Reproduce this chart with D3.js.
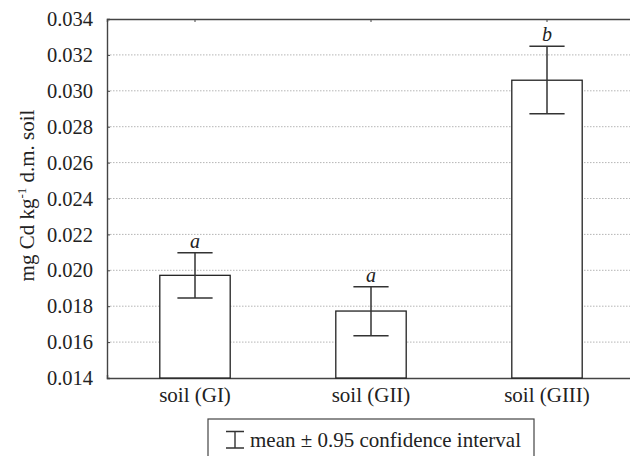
<!DOCTYPE html>
<html>
<head>
<meta charset="utf-8">
<script src="https://cdn.jsdelivr.net/npm/d3@7"></script>
</head>
<body style="margin:0;background:#fff">
<div class="canvas"></div>
<script>
// data
const groups = ["soil (GI)", "soil (GII)", "soil (GIII)"];
const means = [0.01972, 0.01773, 0.03059];
const ciLow = [0.01846, 0.01636, 0.02872];
const ciHigh = [0.02098, 0.01909, 0.03248];
const letters = ["a", "a", "b"];
const yTicks = [0.014, 0.016, 0.018, 0.020, 0.022, 0.024, 0.026, 0.028, 0.030, 0.032, 0.034];

const FONT = "Liberation Serif";
const dims = { width: 630, height: 456 };
const plot = { left: 107, right: 635, top: 19, bottom: 378 };

const svg = d3
  .select(".canvas")
  .append("svg")
  .attr("width", dims.width)
  .attr("height", dims.height)
  .attr("font-family", FONT);

const x = d3.scaleBand().domain(groups).range([plot.left, plot.right]);
const y = d3.scaleLinear().domain([0.014, 0.034]).range([plot.bottom, plot.top]);

const barW = x.bandwidth() * 0.4;
const capW = barW / 2;
const cx = (d) => x(d) + x.bandwidth() / 2;

// gridlines
svg
  .append("g")
  .selectAll("line")
  .data(yTicks.slice(1, -1))
  .join("line")
  .attr("x1", plot.left)
  .attr("x2", dims.width)
  .attr("y1", (d) => y(d))
  .attr("y2", (d) => y(d))
  .attr("stroke", "#b5b5b5")
  .attr("stroke-width", 1)
  .attr("stroke-dasharray", "1.5,1.5");

// y axis
const yAxis = svg
  .append("g")
  .attr("transform", `translate(${plot.left},0)`)
  .call(d3.axisRight(y).tickValues(yTicks).tickSize(3).tickFormat(""));
yAxis.select(".domain").attr("stroke", "#444").attr("stroke-width", 1.4);
yAxis.selectAll(".tick line").attr("stroke", "#444");

svg
  .append("g")
  .selectAll("text")
  .data(yTicks)
  .join("text")
  .attr("font-family", FONT)
  .attr("fill", "#222")
  .attr("x", 93)
  .attr("y", (d) => y(d))
  .attr("dy", "0.35em")
  .attr("text-anchor", "end")
  .attr("font-size", 20.5)
  .text(d3.format(".3f"));

// bottom and top axes
const xAxis = svg
  .append("g")
  .attr("transform", `translate(0,${plot.bottom})`)
  .call(d3.axisTop(x).tickSize(3).tickFormat(""));
xAxis.select(".domain").attr("stroke", "#444").attr("stroke-width", 1.4);
xAxis.selectAll(".tick line").attr("stroke", "#444");

const topAxis = svg
  .append("g")
  .attr("transform", `translate(0,${plot.top})`)
  .call(d3.axisBottom(x).tickSize(3).tickFormat(""));
topAxis.select(".domain").attr("stroke", "#444").attr("stroke-width", 1.4);
topAxis.selectAll(".tick line").attr("stroke", "#444");

// category labels
svg
  .append("g")
  .selectAll("text")
  .data(groups)
  .join("text")
  .attr("font-family", FONT)
  .attr("fill", "#222")
  .attr("x", cx)
  .attr("y", 402)
  .attr("text-anchor", "middle")
  .attr("font-size", 21)
  .text((d) => d);

// bars
svg
  .append("g")
  .selectAll("rect")
  .data(groups)
  .join("rect")
  .attr("x", (d) => cx(d) - barW / 2)
  .attr("y", (d, i) => y(means[i]))
  .attr("width", barW)
  .attr("height", (d, i) => plot.bottom - y(means[i]))
  .attr("fill", "#fff")
  .attr("stroke", "#222")
  .attr("stroke-width", 1.3);

// error bars
const err = svg.append("g").attr("stroke", "#333").attr("stroke-width", 1.5);
groups.forEach((g, i) => {
  err.append("line")
    .attr("x1", cx(g)).attr("x2", cx(g))
    .attr("y1", y(ciHigh[i])).attr("y2", y(ciLow[i]));
  [ciHigh[i], ciLow[i]].forEach((v) => {
    err.append("line")
      .attr("x1", cx(g) - capW / 2).attr("x2", cx(g) + capW / 2)
      .attr("y1", y(v)).attr("y2", y(v));
  });
});

// significance letters
svg
  .append("g")
  .selectAll("text")
  .data(groups)
  .join("text")
  .attr("font-family", FONT)
  .attr("fill", "#222")
  .attr("x", cx)
  .attr("y", (d, i) => y(ciHigh[i]) - 5)
  .attr("text-anchor", "middle")
  .attr("font-size", 20)
  .attr("font-style", "italic")
  .text((d, i) => letters[i]);

// y label
svg
  .append("text")
  .attr("font-family", FONT)
  .attr("fill", "#222")
  .attr("transform", `translate(34,${(plot.top + plot.bottom) / 2 - 3}) rotate(-90)`)
  .attr("text-anchor", "middle")
  .attr("font-size", 21)
  .html('mg Cd kg<tspan dy="-8" font-size="13">-1</tspan><tspan dy="8"> d.m. soil</tspan>');

// legend
const lg = svg.append("g");
lg.append("rect")
  .attr("x", 208)
  .attr("y", 419)
  .attr("width", 326)
  .attr("height", 50)
  .attr("fill", "#fff")
  .attr("stroke", "#444")
  .attr("stroke-width", 1.2);
lg.append("path")
  .attr("d", "M226,431.5H244M235,431.5V448M226,448H244")
  .attr("stroke", "#333")
  .attr("stroke-width", 1.4)
  .attr("fill", "none");
lg.append("text")
  .attr("font-family", FONT)
  .attr("fill", "#222")
  .attr("x", 250)
  .attr("y", 447)
  .attr("font-size", 21)
  .text("mean ± 0.95 confidence interval");
</script>
</body>
</html>
